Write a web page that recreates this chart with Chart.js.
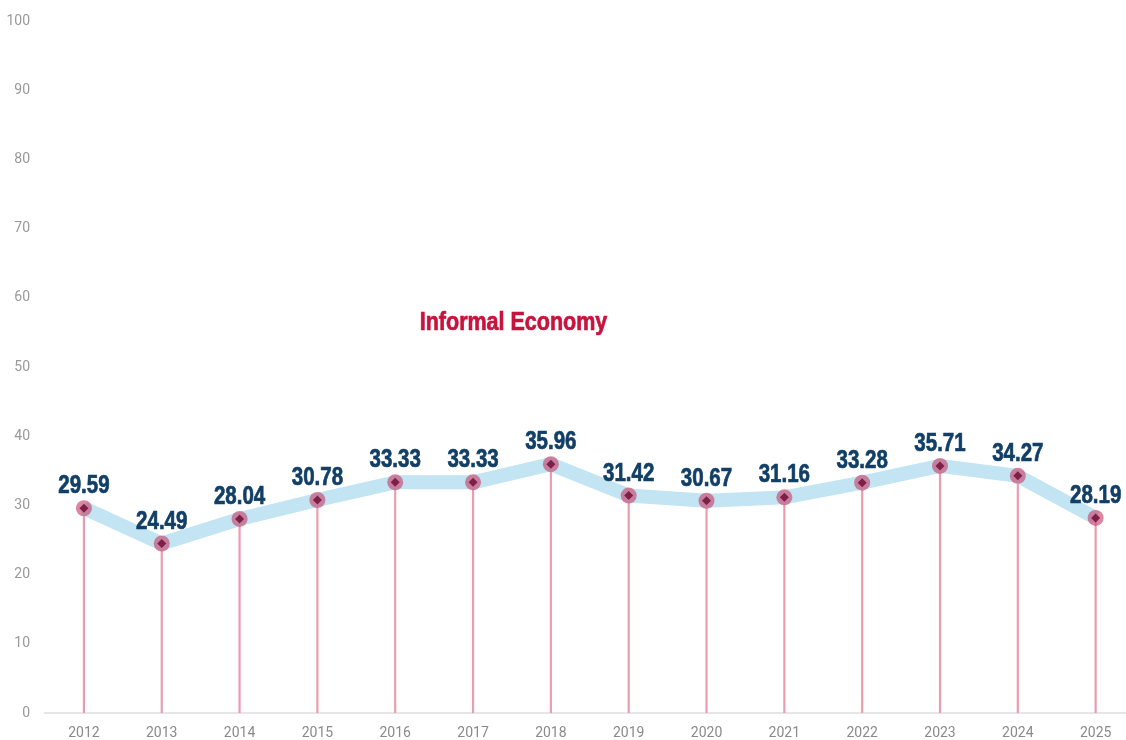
<!DOCTYPE html>
<html>
<head>
<meta charset="utf-8">
<script src="https://cdn.jsdelivr.net/npm/chart.js@4.4.0/dist/chart.umd.min.js"></script>
<style>
html,body{margin:0;padding:0;background:#fff;overflow:hidden;}
#wrap{width:1126px;height:740px;position:relative;}
</style>
</head>
<body>
<div id="wrap"><canvas id="c" width="1126" height="740"></canvas></div>
<script>
const years = [2012,2013,2014,2015,2016,2017,2018,2019,2020,2021,2022,2023,2024,2025];
const values = [29.59,24.49,28.04,30.78,33.33,33.33,35.96,31.42,30.67,31.16,33.28,35.71,34.27,28.19];
const yTicks = [0,10,20,30,40,50,60,70,80,90,100];
const chartTitle = 'Informal Economy';

const pts = years.map((y,i)=>({x:y, y:values[i]}));

const labelPlugin = {
  id:'labels',
  afterDatasetsDraw(chart){
    const ctx = chart.ctx;
    const xs = chart.scales.x, ys = chart.scales.y;
    ctx.save();
    ctx.fillStyle = '#123f66';
    ctx.strokeStyle = '#123f66';
    ctx.lineWidth = 0.7;
    ctx.textAlign = 'center';
    ctx.textBaseline = 'alphabetic';
    ctx.font = 'bold 25px "Liberation Sans", Arial, sans-serif';
    pts.forEach(p=>{
      const px = xs.getPixelForValue(p.x), py = ys.getPixelForValue(p.y);
      ctx.save();
      ctx.translate(px, py - 15);
      ctx.scale(0.82, 1);
      ctx.fillText(p.y.toFixed(2), 0, 0);
      ctx.strokeText(p.y.toFixed(2), 0, 0);
      ctx.restore();
    });
    // title
    ctx.fillStyle = '#c8133e';
    ctx.strokeStyle = '#c8133e';
    const tx = xs.getPixelForValue(2017.52), ty = ys.getPixelForValue(55.3);
    ctx.translate(tx, ty);
    ctx.scale(0.86, 1);
    ctx.fillText(chartTitle, 0, 0);
    ctx.strokeText(chartTitle, 0, 0);
    ctx.restore();
  }
};

new Chart(document.getElementById('c'), {
  data:{
    datasets:[
      {type:'scatter', data:pts, pointStyle:'rectRot', pointRadius:4.5, pointHoverRadius:4.5,
       backgroundColor:'#7d1f47', borderWidth:0, order:0},
      {type:'scatter', data:pts, pointStyle:'circle', pointRadius:8, pointHoverRadius:8,
       backgroundColor:'rgba(200,70,110,0.65)', borderWidth:0, order:1},
      {type:'line', data:pts, borderColor:'#c2e4f3', borderWidth:14, pointRadius:0, tension:0,
       borderJoinStyle:'round', order:2},
      {type:'bar', data:pts, backgroundColor:'#eb9bb0', barThickness:1.5, order:3}
    ]
  },
  options:{
    responsive:false, animation:false,
    layout:{autoPadding:false, padding:{top:21,right:0,left:0,bottom:0}},
    plugins:{legend:{display:false}, tooltip:{enabled:false}},
    scales:{
      x:{type:'linear', min:2011.5, max:2025.39, bounds:'data', offset:false,
         grid:{display:false, drawTicks:false},
         border:{display:true, color:'#e6e6e6', width:2},
         afterBuildTicks(s){ s.ticks = years.map(v=>({value:v})); },
         afterFit(s){ s.height = 27; s.paddingLeft = 0; s.paddingRight = 0; },
         ticks:{padding:12, color:'#8a8a8a', font:{family:'Roboto, "Liberation Sans", sans-serif', size:14},
                callback:v=>String(v), maxRotation:0, autoSkip:false}},
      y:{min:0, max:100, bounds:'data',
         grid:{display:false, drawTicks:false},
         border:{display:false},
         afterBuildTicks(s){ s.ticks = yTicks.map(v=>({value:v})); },
         afterFit(s){ s.width = 45; s.paddingTop = 0; s.paddingBottom = 0; },
         ticks:{padding:15, color:'#999999', font:{family:'Roboto, "Liberation Sans", sans-serif', size:14}}}
    }
  },
  plugins:[labelPlugin]
});
</script>
</body>
</html>
